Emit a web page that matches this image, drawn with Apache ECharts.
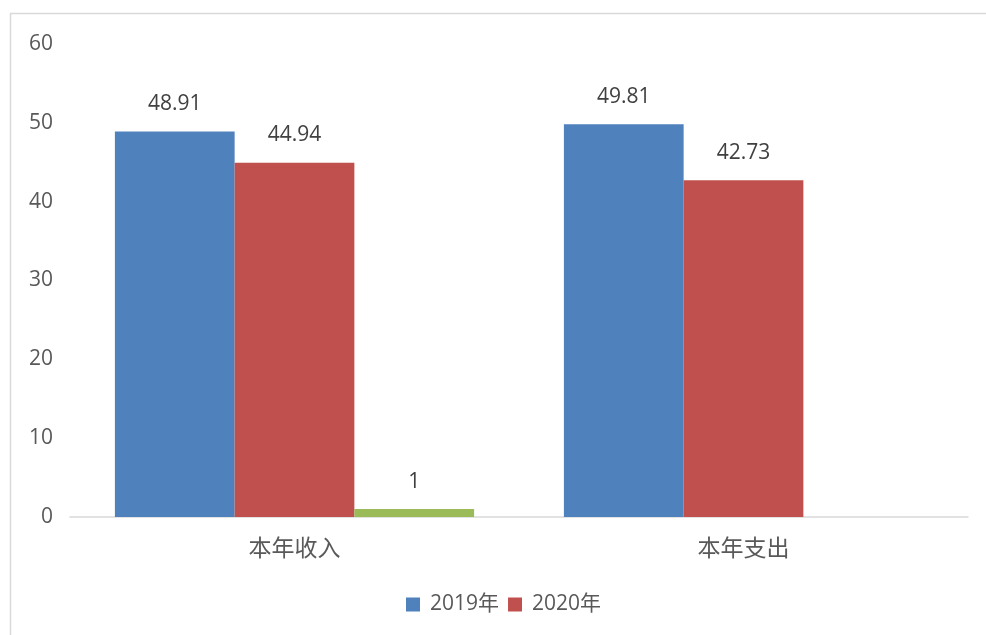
<!DOCTYPE html>
<html><head><meta charset="utf-8">
<script src="https://cdn.jsdelivr.net/npm/echarts@6/dist/echarts.min.js"></script>
<style>html,body{margin:0;padding:0;background:#fff}#c{width:986px;height:635px}</style>
</head><body><div id="c"></div>
<script>
var categories = ['本年收入', '本年支出'];
var s2019 = [48.91, 49.81];
var s2020 = [44.94, 42.73];
var sOther = [1, null];
var yTicks = [0, 10, 20, 30, 40, 50, 60];

var font = '"Open Sans", "Noto Sans CJK SC", sans-serif';
var txt = '#595959';
var chart = echarts.init(document.getElementById('c'));
var lbl = {show: true, position: 'top', distance: 17, color: '#404040', fontSize: 21, fontFamily: font};
chart.setOption({
  animation: false,
  graphic: [{type: 'rect', shape: {x: 10.5, y: 13.5, width: 990, height: 640}, style: {fill: null, stroke: '#d9d9d9', lineWidth: 1.5}, silent: true}],
  grid: {left: 70, right: 18, top: 44, bottom: 118, containLabel: false},
  legend: {
    data: ['2019年', '2020年'], bottom: 15, left: 401, itemWidth: 14, itemHeight: 14, itemGap: 9,
    icon: 'rect', textStyle: {color: txt, fontSize: 21, fontFamily: font, padding: [0, 0, 0, 5]}
  },
  xAxis: {
    type: 'category', data: categories,
    axisLine: {lineStyle: {color: '#d9d9d9', width: 1.5}}, axisTick: {show: false},
    axisLabel: {color: txt, fontSize: 23, fontFamily: font, margin: 21}
  },
  yAxis: {
    type: 'value', min: yTicks[0], max: yTicks[yTicks.length - 1], interval: 10,
    axisLine: {show: false}, axisTick: {show: false}, splitLine: {show: false},
    axisLabel: {color: txt, fontSize: 21, fontFamily: font, margin: 17, padding: [3, 0, 0, 0]}
  },
  series: [
    {name: '2019年', type: 'bar', data: s2019, barGap: '0%', barCategoryGap: '20%', itemStyle: {color: '#4f81bd'}, label: lbl},
    {name: '2020年', type: 'bar', data: s2020, barGap: '0%', barCategoryGap: '20%', itemStyle: {color: '#c0504d'}, label: lbl},
    {name: '其他', type: 'bar', data: sOther, barGap: '0%', barCategoryGap: '20%', itemStyle: {color: '#9bbb59'}, label: lbl}
  ]
});
</script></body></html>
